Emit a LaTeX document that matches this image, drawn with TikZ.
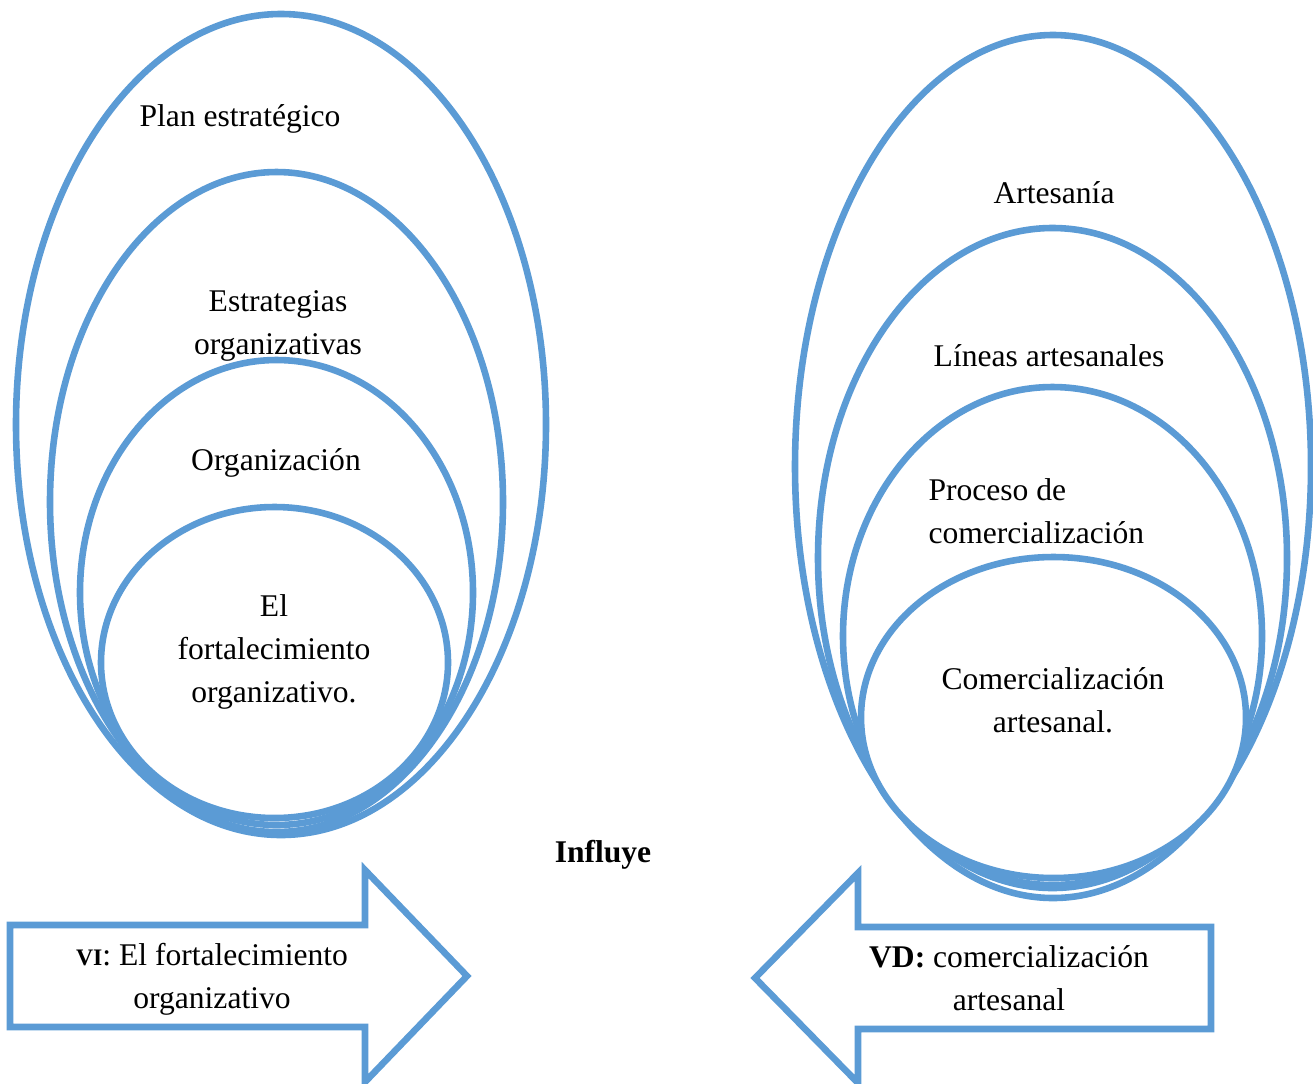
\documentclass[tikz,border=0pt]{standalone}
\usepackage{fontspec}
\setmainfont{Liberation Serif}
\usepackage{xcolor}
\usetikzlibrary{positioning}
\definecolor{ovalblue}{HTML}{5B9BD5}

\begin{document}
\begin{tikzpicture}[
    x=0.38pt, y=-0.38pt,
    oval/.style={draw=ovalblue, line width=2.5pt, fill=white},
    bigarrow/.style={draw=ovalblue, line width=2.5pt, line join=miter, fill=white},
    txt/.style={font=\fontsize{12}{16.3}\selectfont, align=center, inner sep=0pt, anchor=base}
]
\useasboundingbox (0,0) rectangle (1313,1083);

% left: independent variable
\draw[oval] (281,424.5) ellipse [x radius=265, y radius=410.5];
\draw[oval] (276.5,502) ellipse [x radius=226.5, y radius=330];
\draw[oval] (276.5,592.5) ellipse [x radius=196.5, y radius=232.5];
\draw[oval] (274.5,662.5) ellipse [x radius=173.5, y radius=155.5];

% multi-line labels sit on their last baseline
\node[txt] (plan) at (240,126) {Plan estratégico};
\node[txt] (estrat) at (278,354) {Estrategias\\organizativas};
\node[txt] (organ) at (276,470) {Organización};
\node[txt] (fort) at (274,702) {El\\fortalecimiento\\organizativo.};

% right: dependent variable
\draw[oval] (1053,466.5) ellipse [x radius=258, y radius=431.5];
\draw[oval] (1052.5,558) ellipse [x radius=234.5, y radius=330];
\draw[oval] (1052.5,636) ellipse [x radius=209.5, y radius=249];
\draw[oval] (1053.5,717.5) ellipse [x radius=192.5, y radius=160.5];

\node[txt] (artes) at (1054,203) {Artesanía};
\node[txt] (lineas) at (1049,366) {Líneas artesanales};
\node[txt, align=left, anchor=base west] (proceso) at (928,543) {Proceso de\\comercialización};
\node[txt] (comart) at (1053,732) {Comercialización\\artesanal.};

\node[txt, font=\fontsize{12}{16.3}\selectfont\bfseries] (influye) at (603,862) {Influye};

% arrows
\draw[bigarrow] (10,925) -- (365,925) -- (365,870) -- (467,976) -- (365,1082) -- (365,1027) -- (10,1027) -- cycle;
\draw[bigarrow] (1211,927) -- (858,927) -- (858,873) -- (755,978) -- (858,1083) -- (858,1029) -- (1211,1029) -- cycle;

\node[txt] (vi) at (212,1008) {{\bfseries\fontsize{9}{10}\selectfont VI}: El fortalecimiento\\organizativo};
\node[txt] (vd) at (1009,1010) {\textbf{VD:} comercialización\\artesanal};

\end{tikzpicture}
\end{document}
